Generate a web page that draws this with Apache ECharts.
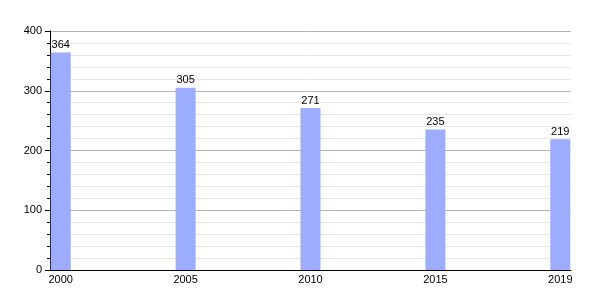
<!DOCTYPE html>
<html><head><meta charset="utf-8">
<script src="https://cdn.jsdelivr.net/npm/echarts@6/dist/echarts.min.js"></script>
<style>html,body{margin:0;padding:0;background:#fff}#c{width:600px;height:300px}</style>
</head><body><div id="c"></div>
<script>
const years = ['2000', '2005', '2010', '2015', '2019'];
const values = [364, 305, 271, 235, 219];
const yTicks = [0, 100, 200, 300, 400];

const chart = echarts.init(document.getElementById('c'), null, {renderer: 'canvas'});
const pad = 0.086;
chart.setOption({
  animation: false,
  grid: {left: 50, right: 29, top: 31, bottom: 30, containLabel: false},
  xAxis: {
    type: 'value', min: -pad, max: years.length - 1 + pad,
    axisLine: {show: true, onZero: false, lineStyle: {color: '#000', width: 1}},
    axisTick: {show: false},
    splitLine: {show: false},
    axisLabel: {
      customValues: years.map((y, i) => i),
      formatter: v => years[Math.round(v)],
      color: '#000', fontSize: 11, fontFamily: 'Liberation Sans, Arial, sans-serif', margin: 4
    }
  },
  yAxis: {
    type: 'value', min: 0, max: 400, interval: 100,
    axisLine: {show: true, onZero: false, lineStyle: {color: '#000', width: 1}},
    axisTick: {show: true, length: 5, lineStyle: {color: '#000'}},
    minorTick: {show: true, splitNumber: 5, length: 3, lineStyle: {color: '#000'}},
    splitLine: {show: true, lineStyle: {color: '#b4b4b4', width: 1}},
    minorSplitLine: {show: true, lineStyle: {color: '#e6e6e6', width: 1}},
    axisLabel: {color: '#000', fontSize: 11, fontFamily: 'Liberation Sans, Arial, sans-serif', margin: 8,
      formatter: v => yTicks.includes(v) ? String(v) : ''}
  },
  series: [{
    type: 'bar',
    data: values.map((v, i) => [i, v]),
    barWidth: 20,
    itemStyle: {color: '#9cacfe'},
    label: {show: true, position: 'top', distance: 2, color: '#000', fontSize: 11,
      fontFamily: 'Liberation Sans, Arial, sans-serif', formatter: p => String(p.value[1])}
  }]
});
</script></body></html>
